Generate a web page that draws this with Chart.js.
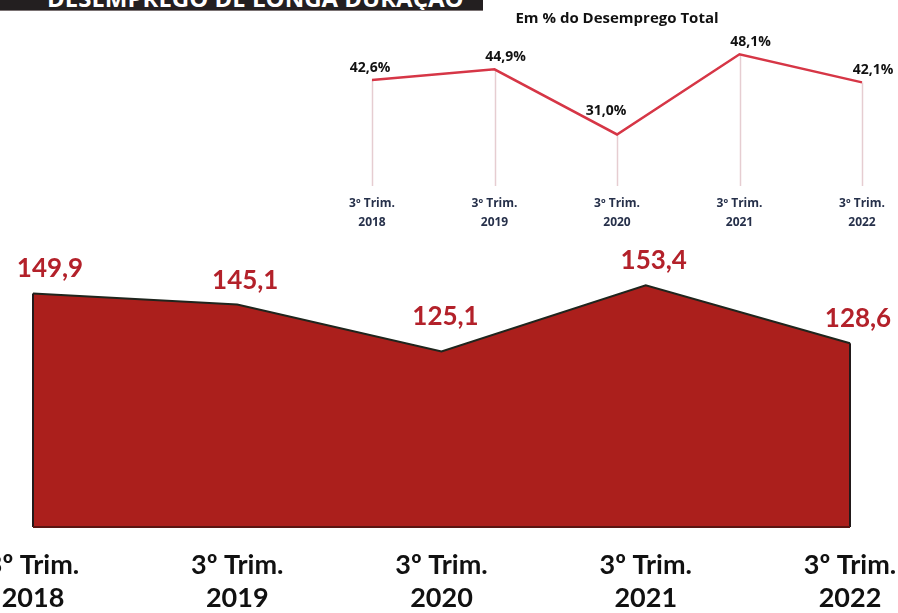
<!DOCTYPE html>
<html><head><meta charset="utf-8">
<script src="https://cdn.jsdelivr.net/npm/chart.js@4"></script>
<style>
html,body{margin:0;padding:0;background:#fff;width:898px;height:613px;overflow:hidden;position:relative;}
#hdr{position:absolute;left:0;top:0;width:483px;height:11px;background:#231f20;overflow:hidden;border-bottom:1px solid #7a7273;box-sizing:border-box}
#hdr span{position:absolute;left:47px;top:-14px;font:700 24px "Open Sans",sans-serif;color:#fff;line-height:24px;white-space:nowrap}
#bigWrap{position:absolute;left:-100px;top:0;width:1098px;height:637px}
#smallWrap{position:absolute;left:0;top:0;width:898px;height:240px}
</style></head>
<body>
<div id="hdr"><span>DESEMPREGO DE LONGA DURAÇÃO</span></div>
<div id="bigWrap"><canvas id="big" width="1098" height="637"></canvas></div>
<div id="smallWrap"><canvas id="small" width="898" height="240"></canvas></div>
<script>
// ---- data ----
const quarterLabel = "3º Trim.";
const years = ["2018", "2019", "2020", "2021", "2022"];
const longTermUnemployed = [149.9, 145.1, 125.1, 153.4, 128.6];   // milhares
const shareOfTotalUnemployment = [42.6, 44.9, 31.0, 48.1, 42.1];  // %
const smallTitle = "Em % do Desemprego Total";

const categories = years.map(y => [quarterLabel, y]);
const fmt = v => v.toFixed(1).replace('.', ',');

const bigFont = 'Lato, "Open Sans", sans-serif';

const valueLabels = {
  id: 'valueLabels',
  afterDatasetsDraw(chart, args, o) {
    const ctx = chart.ctx;
    const meta = chart.getDatasetMeta(0);
    const data = chart.data.datasets[0].data;
    ctx.save();
    ctx.font = o.font;
    ctx.fillStyle = o.color;
    ctx.textAlign = 'center';
    ctx.textBaseline = 'alphabetic';
    meta.data.forEach((pt, i) => {
      const prev = data[i - 1], next = data[i + 1];
      const isMin = prev !== undefined && next !== undefined && prev > data[i] && next > data[i];
      const txt = fmt(data[i]) + (o.suffix || '');
      let dx = isMin ? o.minDx : o.dx;
      if (i === 0) dx = o.firstDx;
      const x = pt.x + dx;
      const y = pt.y - (isMin ? o.minDy : o.dy);
      ctx.fillText(txt, x, y);
    });
    ctx.restore();
  }
};

const dropLines = {
  id: 'dropLines',
  beforeDatasetsDraw(chart, args, o) {
    const ctx = chart.ctx;
    const meta = chart.getDatasetMeta(0);
    ctx.save();
    ctx.strokeStyle = o.color;
    ctx.lineWidth = o.width;
    meta.data.forEach(pt => {
      ctx.beginPath();
      ctx.moveTo(Math.round(pt.x) + 0.5, pt.y);
      ctx.lineTo(Math.round(pt.x) + 0.5, chart.chartArea.bottom);
      ctx.stroke();
    });
    ctx.restore();
  }
};

const areaEdges = {
  id: 'areaEdges',
  afterDatasetsDraw(chart, args, o) {
    const ctx = chart.ctx;
    const pts = chart.getDatasetMeta(0).data;
    const first = pts[0], last = pts[pts.length - 1];
    const b = chart.chartArea.bottom;
    ctx.save();
    ctx.lineWidth = o.width;
    ctx.strokeStyle = o.sideColor;
    ctx.beginPath();
    ctx.moveTo(first.x, first.y); ctx.lineTo(first.x, b);
    ctx.moveTo(last.x, last.y); ctx.lineTo(last.x, b);
    ctx.stroke();
    ctx.strokeStyle = o.bottomColor;
    ctx.beginPath();
    ctx.moveTo(first.x, b); ctx.lineTo(last.x, b);
    ctx.stroke();
    ctx.restore();
  }
};

// ---- big area chart ----
new Chart(document.getElementById('big'), {
  type: 'line',
  data: {
    labels: categories,
    datasets: [{
      data: longTermUnemployed,
      fill: 'start',
      backgroundColor: '#ab1f1c',
      borderColor: '#1f251d',
      borderWidth: 2,
      pointRadius: 0,
      tension: 0
    }]
  },
  plugins: [areaEdges, valueLabels],
  options: {
    responsive: false,
    animation: false,
    layout: { padding: { left: 133, right: 148, top: 223, bottom: 0 } },
    plugins: {
      legend: { display: false },
      tooltip: { enabled: false },
      areaEdges: { width: 2, sideColor: '#221a1a', bottomColor: '#5a1512' },
      valueLabels: { font: 'bold 26px ' + bigFont, color: '#b3212a', dx: 8, dy: 16, minDx: 4, minDy: 26, firstDx: 17 }
    },
    scales: {
      x: {
        offset: false,
        grid: { display: false, drawTicks: false },
        border: { display: false },
        ticks: { color: '#111', font: { family: bigFont, size: 27, weight: 'bold', lineHeight: '33px' }, padding: 22, maxRotation: 0, autoSkip: false }
      },
      y: {
        display: false,
        min: 50, max: 180
      }
    }
  }
});

// ---- small line chart ----
new Chart(document.getElementById('small'), {
  type: 'line',
  data: {
    labels: categories,
    datasets: [{
      data: shareOfTotalUnemployment,
      fill: false,
      borderColor: '#d63646',
      borderWidth: 2.5,
      pointRadius: 0,
      tension: 0
    }]
  },
  plugins: [dropLines, valueLabels],
  options: {
    responsive: false,
    animation: false,
    layout: { padding: { left: 372, right: 36, top: 0, bottom: 0 } },
    plugins: {
      legend: { display: false },
      tooltip: { enabled: false },
      title: {
        display: true, text: smallTitle, fullSize: false,
        color: '#111', font: { family: '"Open Sans", sans-serif', size: 15, weight: 'bold', lineHeight: 1.2 },
        padding: { top: 10, bottom: 8 }
      },
      dropLines: { color: '#e6cdd1', width: 1.5 },
      valueLabels: { font: 'bold 14px "Open Sans", sans-serif', color: '#111', suffix: '%', dx: 11, dy: 8, minDx: -11, minDy: 19, firstDx: -2 }
    },
    scales: {
      x: {
        offset: false,
        grid: { display: false, drawTicks: false },
        border: { display: false },
        ticks: { color: '#26304a', font: { family: '"Open Sans", sans-serif', size: 12, weight: 'bold', lineHeight: '19px' }, padding: 8, maxRotation: 0, autoSkip: false }
      },
      y: {
        display: false,
        min: 20, max: 52
      }
    }
  }
});
</script>
</body></html>
